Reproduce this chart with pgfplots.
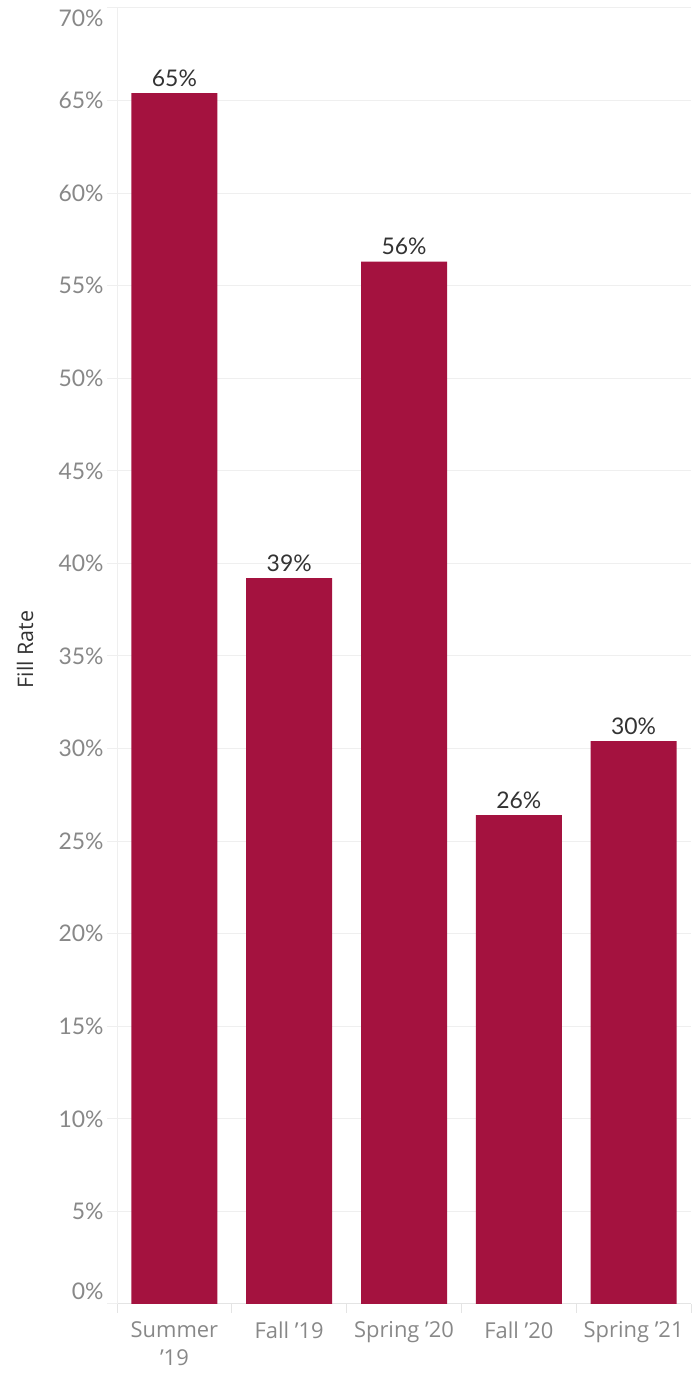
\documentclass[border=0pt]{standalone}
\usepackage{pgfplots}
\pgfplotsset{compat=1.18}
\usepackage{fontspec}
\setmainfont{Lato}
\newfontfamily\labfont{Open Sans}
\definecolor{barc}{HTML}{A4123F}
\definecolor{gridc}{HTML}{EFEFEF}
\definecolor{axisc}{HTML}{E4E4E4}
\definecolor{tickc}{HTML}{888888}
\definecolor{txt}{HTML}{333333}
\begin{document}
\begin{tikzpicture}
\begin{axis}[
  at={(117bp,71bp)}, anchor=south west,
  scale only axis, width=574bp, height=1296bp,
  ymin=0, ymax=70, xmin=-0.5, xmax=4.5,
  ybar, bar width=86bp,
  /pgf/number format/assume math mode=true,
  axis lines*=left,
  x axis line style={draw=axisc, line width=1bp},
  y axis line style={draw=gridc, line width=1bp},
  ymajorgrids, grid style={draw=gridc, line width=1bp},
  ytick={0,5,...,65},
  yticklabel={\pgfmathprintnumber{\tick}\%},
  extra y ticks={70},
  extra y tick labels={70\%},
  extra y tick style={grid=major, yticklabel style={yshift=-23bp}},
  tick align=outside,
  major tick length=10bp,
  minor tick length=9bp,
  ytick style={draw=gridc, line width=1bp},
  xtick={0,1,2,3,4},
  xtick style={draw=none},
  minor xtick={-0.5,0.5,1.5,2.5,3.5,4.5},
  minor x tick style={draw=axisc, line width=1bp},
  xticklabels={{Summer\\’19},{Fall ’19},{Spring ’20},{Fall ’20},{Spring ’21}},
  xticklabel style={align=center, font=\labfont\fontsize{22}{28}\selectfont, color=tickc, anchor=north, yshift=-4bp},
  yticklabel style={font=\fontsize{23}{27}\selectfont, color=tickc, yshift={(\ticknum==0)*13bp}},
  ylabel={Fill Rate},
  ylabel style={at={(axis description cs:-0.160,0.505)}, anchor=center, font=\labfont\fontsize{21.5}{25}\selectfont, color=txt},
  nodes near coords={\pgfmathprintnumber[fixed,precision=0]{\pgfplotspointmeta}\%},
  nodes near coords style={font=\fontsize{23}{27}\selectfont, color=txt, anchor=south, yshift=3bp},
  clip=false,
]
\addplot[fill=barc, draw=none] coordinates {(0,65.4) (1,39.2) (2,56.3) (3,26.4) (4,30.4)};
\end{axis}
\pgfresetboundingbox
\path (0,0) rectangle (694bp,1375bp);
\end{tikzpicture}
\end{document}
